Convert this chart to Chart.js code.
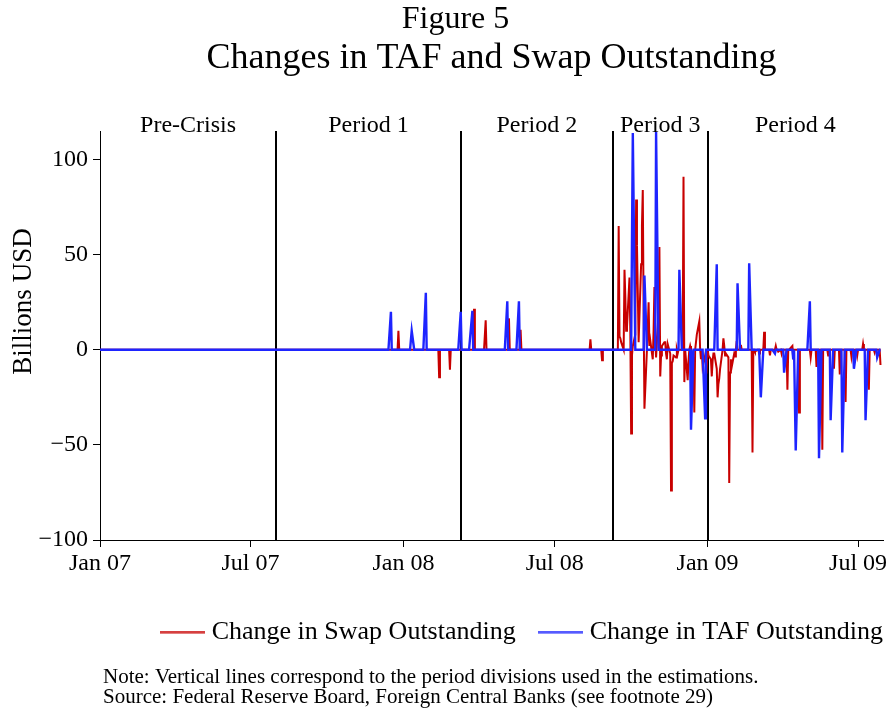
<!DOCTYPE html>
<html><head><meta charset="utf-8">
<script src="https://cdn.jsdelivr.net/npm/chart.js@4.4.1/dist/chart.umd.min.js"></script>
<style>html,body{margin:0;padding:0;background:#fff;}canvas{display:block;}</style>
</head><body>
<canvas id="c" width="891" height="708"></canvas>
<script>
// ---------------- data ----------------
const swapDates = [
 '2007-12-26','2008-02-13','2008-02-26','2008-03-26','2008-04-09','2008-05-07','2008-05-21','2008-08-13','2008-08-27',
 '2008-09-16','2008-09-17','2008-09-18','2008-09-19','2008-09-23','2008-09-24','2008-09-25','2008-09-26','2008-09-29','2008-09-30',
 '2008-10-01','2008-10-02','2008-10-03','2008-10-06','2008-10-07','2008-10-08','2008-10-09','2008-10-10','2008-10-13','2008-10-14',
 '2008-10-15','2008-10-16','2008-10-17','2008-10-21','2008-10-22','2008-10-23','2008-10-24','2008-10-27','2008-10-28','2008-10-29',
 '2008-10-30','2008-10-31','2008-11-03','2008-11-04','2008-11-05','2008-11-06','2008-11-07','2008-11-10','2008-11-11','2008-11-12',
 '2008-11-13','2008-11-14','2008-11-17','2008-11-18','2008-11-19','2008-11-20','2008-11-21','2008-11-24','2008-11-26',
 '2008-12-03','2008-12-04','2008-12-08','2008-12-09','2008-12-11','2008-12-15','2008-12-16','2008-12-19','2008-12-22',
 '2008-12-24','2008-12-26','2008-12-29','2008-12-30','2008-12-31',
 '2009-01-02','2009-01-05','2009-01-06','2009-01-07','2009-01-08','2009-01-09','2009-01-12','2009-01-13','2009-01-14','2009-01-15',
 '2009-01-16','2009-01-20','2009-01-21','2009-01-22','2009-01-23','2009-01-26','2009-01-27','2009-01-28','2009-01-29','2009-01-30',
 '2009-02-02','2009-02-03','2009-02-05','2009-02-10','2009-02-24','2009-02-27','2009-03-04','2009-03-10','2009-03-17','2009-03-24',
 '2009-03-27','2009-03-31','2009-04-07','2009-04-13','2009-04-14','2009-04-21','2009-05-05','2009-05-12','2009-05-19','2009-05-26',
 '2009-06-02','2009-06-09','2009-06-16','2009-06-23','2009-06-30','2009-07-07','2009-07-14','2009-07-21','2009-07-28'
];
const swapValues = [
 10,-14.5,-10.5,21.5,15.5,16.5,10.5,5.5,-5.5,
 65,7,6,4,42,28,10,12,38,10,
 -44,-3,2,8,79,55,30,4,45,65,
 84,20,-31,12,25,2,5,-5,10,33,
 5,-4,20,54,-14,-3,2,4,4,-2,
 -5,3,-2,-74,-7,-6,-3,-4,-2,
 91,-17,-16,-6,2,-5,-33,8,15,
 -5,-9,-3,-7,-9,
 -3,-5,-14,-6,-2,-2,-10,-25,-18,-15,
 -10,6,2,-3,-2,-4,-70,-12,-5,-9,
 -2,-3.5,4.5,2.5,-54,-1,-2,9.5,-3,2,
 -1,-2,-21,2,-5,-33,-4,-9,-52.5,-3,
 -10,-13,-27.5,-3.5,-3,3,-21,-1.5,-8
];
const tafDates = [
 '2007-12-17','2008-01-11','2008-01-28','2008-03-10','2008-03-24','2008-05-05','2008-05-19',
 '2008-10-03','2008-10-17','2008-10-31','2008-11-28','2008-12-12','2008-12-29',
 '2009-01-12','2009-02-06','2009-02-20','2009-03-06','2009-03-23','2009-04-03','2009-04-14','2009-04-17',
 '2009-05-04','2009-05-15','2009-05-29','2009-06-12','2009-06-26','2009-07-10','2009-07-24'
];
const tafValues = [
 20,10,30,20,20.5,25.5,25.5,
 114,39,114.5,42,-42,-36,
 45,35,45.5,-25,-2,-12,-5,-53,
 25.5,-57,-37,-54,-10,-37,-4
];
const seriesStart = '2007-01-01';
const seriesEnd = '2009-07-28';
const axisStart = '2007-01-01';
const axisEnd = '2009-07-31';
const xTickDates = ['2007-01-01','2007-07-01','2008-01-01','2008-07-01','2009-01-01','2009-07-01'];
const xTickLabels = ['Jan 07','Jul 07','Jan 08','Jul 08','Jan 09','Jul 09'];
const yTickValues = [-100,-50,0,50,100];
const periodBreaks = ['2007-01-01','2007-08-01','2008-03-10','2008-09-09','2009-01-01','2009-07-31'];
const periodNames = ['Pre-Crisis','Period 1','Period 2','Period 3','Period 4'];
const seriesNames = ['Change in Swap Outstanding','Change in TAF Outstanding'];
const figureLabel = 'Figure 5';
const chartTitle = 'Changes in TAF and Swap Outstanding';
const yAxisTitle = 'Billions USD';
const noteLines = ['Note: Vertical lines correspond to the period divisions used in the estimations.',
                   'Source: Federal Reserve Board, Foreign Central Banks (see footnote 29)'];

// ---------------- helpers ----------------
const SERIF = "'Liberation Serif', 'Times New Roman', serif";
const RED = 'rgb(200,0,0)';
const BLUE = 'rgb(30,36,255)';
const dayOf = s => { const [y,m,d] = s.split('-').map(Number); return Math.round((Date.UTC(y,m-1,d) - Date.UTC(2007,0,1)) / 864e5); };

function buildSeries(dates, values) {
  const map = new Map();
  dates.forEach((d, i) => map.set(dayOf(d), values[i]));
  const s = dayOf(seriesStart), e = dayOf(seriesEnd);
  const pts = [];
  for (let t = s; t <= e; t++) {
    const wd = ((t % 7) + 7) % 7; // 0 = Monday (1 Jan 2007 was a Monday)
    if (wd < 5 || map.has(t)) pts.push({x: t, y: map.has(t) ? map.get(t) : 0});
  }
  return pts;
}

function legendLine(color) {
  const c = document.createElement('canvas');
  c.width = 45; c.height = 3;
  const g = c.getContext('2d');
  g.fillStyle = color; g.fillRect(0, 0.5, 45, 2);
  return c;
}

const extraText = {
  id: 'extraText',
  beforeDatasetsDraw(chart) {
    const {ctx, chartArea} = chart; const xs = chart.scales.x;
    ctx.save();
    ctx.strokeStyle = '#000'; ctx.lineWidth = 2;
    for (let i = 1; i < periodBreaks.length - 1; i++) {
      const px = Math.round(xs.getPixelForValue(dayOf(periodBreaks[i])));
      ctx.beginPath(); ctx.moveTo(px, chartArea.top); ctx.lineTo(px, chartArea.bottom); ctx.stroke();
    }
    ctx.restore();
  },
  afterDraw(chart) {
    const {ctx, chartArea} = chart; const xs = chart.scales.x;
    ctx.save();
    ctx.fillStyle = '#000';
    ctx.font = '24px ' + SERIF;
    ctx.textAlign = 'center'; ctx.textBaseline = 'alphabetic';
    for (let i = 0; i < periodNames.length; i++) {
      const mid = (dayOf(periodBreaks[i]) + dayOf(periodBreaks[i + 1])) / 2;
      ctx.fillText(periodNames[i], xs.getPixelForValue(mid), chartArea.top + 1);
    }
    // y axis title
    ctx.save();
    ctx.font = '27px ' + SERIF;
    ctx.translate(chart.scales.y.left + 24, (chartArea.top + chartArea.bottom) / 2 - 34);
    ctx.rotate(-Math.PI / 2);
    ctx.textAlign = 'center'; ctx.textBaseline = 'middle';
    ctx.fillText(yAxisTitle, 0, 0);
    ctx.restore();
    // notes
    ctx.font = '21px ' + SERIF;
    ctx.textAlign = 'left'; ctx.textBaseline = 'middle';
    ctx.fillText(noteLines[0], chartArea.left + 3, chart.height - 31);
    ctx.fillText(noteLines[1], chartArea.left + 3, chart.height - 11);
    ctx.restore();
  }
};

Chart.defaults.font.family = SERIF;
Chart.defaults.color = '#000';

new Chart(document.getElementById('c'), {
  type: 'line',
  data: {
    datasets: [
      {label: seriesNames[0], data: buildSeries(swapDates, swapValues), borderColor: RED, backgroundColor: RED,
       borderWidth: 2, pointRadius: 0, tension: 0, order: 1, fill: false},
      {label: seriesNames[1], data: buildSeries(tafDates, tafValues), borderColor: BLUE, backgroundColor: BLUE,
       borderWidth: 2.4, pointRadius: 0, tension: 0, order: 0, fill: false}
    ]
  },
  options: {
    responsive: false, animation: false, devicePixelRatio: 1,
    layout: {padding: {top: 4, right: -20, bottom: 53, left: 0}},
    scales: {
      x: {
        type: 'linear', min: dayOf(axisStart), max: dayOf(axisEnd),
        afterBuildTicks: s => { s.ticks = xTickDates.map(d => ({value: dayOf(d)})); },
        afterFit: s => { s.height = 51; },
        ticks: {autoSkip: false, maxRotation: 0, minRotation: 0, padding: 2, color: '#000',
                font: {family: SERIF, size: 24}, callback: (v, i) => xTickLabels[i]},
        grid: {drawOnChartArea: false, drawTicks: true, tickLength: 7, color: '#000', lineWidth: 1},
        border: {display: true, color: '#000', width: 1}
      },
      y: {
        type: 'linear', position: 'left', min: -100, max: 115,
        afterBuildTicks: s => { s.ticks = yTickValues.map(v => ({value: v})); },
        afterFit: s => { s.width = 100; },
        ticks: {padding: 5, color: '#000', font: {family: SERIF, size: 24},
                callback: v => String(v).replace('-', '\u2212')},
        grid: {drawOnChartArea: false, drawTicks: true, tickLength: 7, color: '#000', lineWidth: 1},
        border: {display: true, color: '#000', width: 1}
      },
      yR: {
        type: 'linear', position: 'right', display: true,
        afterFit: s => { s.width = 28; },
        ticks: {display: false}, grid: {display: false}, border: {display: false}
      }
    },
    plugins: {
      subtitle: {display: true, text: figureLabel, weight: 2500, fullSize: true, color: '#000',
                 font: {family: SERIF, size: 32, weight: 'normal', lineHeight: 1}, padding: {top: 0, bottom: 5}},
      title: {display: true, text: chartTitle, fullSize: false, color: '#000',
              font: {family: SERIF, size: 36, weight: 'normal', lineHeight: 1}, padding: {top: 0, bottom: 54}},
      legend: {
        display: true, position: 'bottom', align: 'end', fullSize: true,
        labels: {
          usePointStyle: true, pointStyleWidth: 33, padding: 28, color: '#000',
          font: {family: SERIF, size: 26},
          generateLabels(chart) {
            const items = Chart.defaults.plugins.legend.labels.generateLabels(chart);
            items.forEach(it => { it.pointStyle = legendLine(chart.data.datasets[it.datasetIndex].borderColor); it.lineWidth = 0; });
            return items;
          },
          sort: (a, b) => a.datasetIndex - b.datasetIndex
        }
      },
      tooltip: {enabled: false}
    }
  },
  plugins: [extraText]
});
</script>
</body></html>
